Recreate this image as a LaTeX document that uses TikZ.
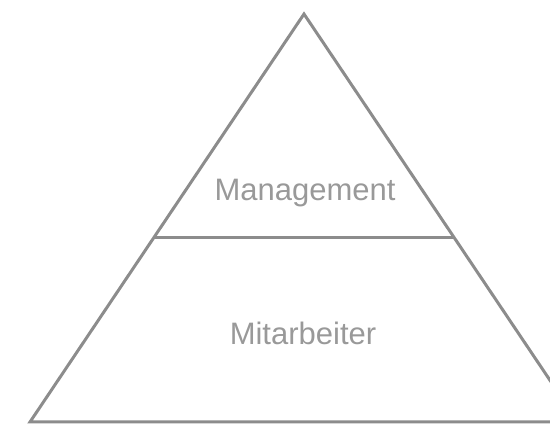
\documentclass[tikz,border=0pt]{standalone}
\usepackage{fontspec}
\setmainfont{Liberation Sans}
\begin{document}
\begin{tikzpicture}[x=1pt,y=-1pt,
  edge/.style={draw=black!45,line width=3pt},
  lbl/.style={text=black!40,font=\fontsize{31}{36}\selectfont,inner sep=0pt}]
\useasboundingbox (0,0) rectangle (550,427);
\clip (0,0) rectangle (550,427);
\coordinate (apex) at (304,14);
\coordinate (bl) at (30,422);
\coordinate (br) at (578,422);
\coordinate (ml) at (155,238);
\coordinate (mr) at (453,238);
\draw[edge,line join=miter] (bl) -- (apex) -- (br) -- cycle;
\draw[edge] (ml) -- (mr);
\node[lbl] (mgmt) at (305,193) {Management};
\node[lbl] (mit) at (303,333) {Mitarbeiter};
\end{tikzpicture}
\end{document}
